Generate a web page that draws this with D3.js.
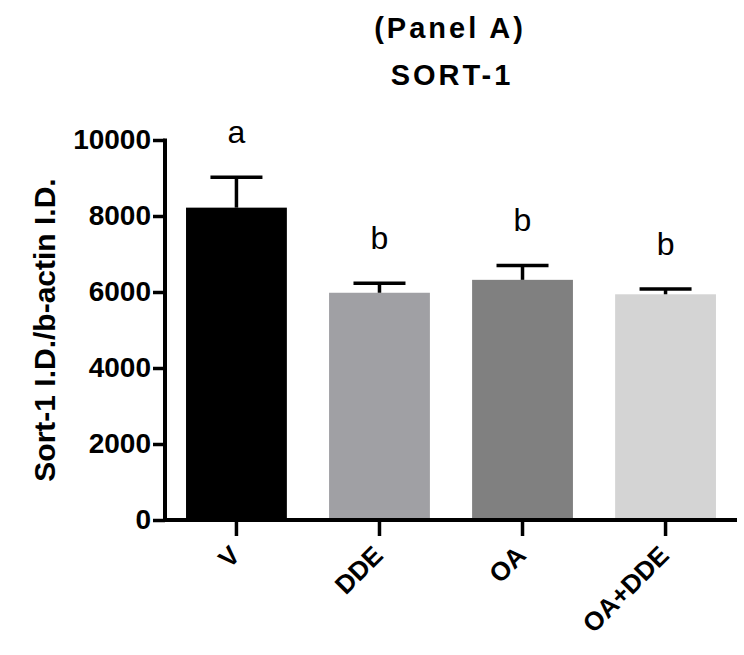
<!DOCTYPE html>
<html><head><meta charset="utf-8">
<script src="https://cdn.jsdelivr.net/npm/d3@7"></script>
<style>body{margin:0;background:#fff}</style>
</head><body>
<svg id="c" width="744" height="655"></svg>
<script>
const categories = ["V", "DDE", "OA", "OA+DDE"];
const means = [8220, 5980, 6320, 5940];
const errors = [800, 250, 380, 140];
const letters = ["a", "b", "b", "b"];
const colors = ["#000000", "#a0a0a4", "#808080", "#d4d4d4"];
const yTicks = [0, 2000, 4000, 6000, 8000, 10000];

const svg = d3.select("#c");
const font = "Arial, 'Liberation Sans', sans-serif";
const pLeft = 165, pRight = 737, pTop = 140, pBottom = 520;

const x = d3.scaleBand().domain(categories).range([pLeft, pRight]).paddingInner(0.295).paddingOuter(0.147);
const y = d3.scaleLinear().domain([0, 10000]).range([pBottom, pTop]);

// bars
svg.selectAll("rect.bar").data(categories).enter().append("rect")
  .attr("x", d => x(d)).attr("width", x.bandwidth())
  .attr("y", (d, i) => y(means[i])).attr("height", (d, i) => y(0) - y(means[i]))
  .attr("fill", (d, i) => colors[i]);

// error bars
const capW = 52;
categories.forEach((c, i) => {
  const cx = x(c) + x.bandwidth() / 2;
  const yTopErr = y(means[i] + errors[i]);
  svg.append("line").attr("x1", cx).attr("x2", cx)
    .attr("y1", y(means[i])).attr("y2", yTopErr)
    .attr("stroke", "#000").attr("stroke-width", 3.5);
  svg.append("line").attr("x1", cx - capW / 2).attr("x2", cx + capW / 2)
    .attr("y1", yTopErr).attr("y2", yTopErr)
    .attr("stroke", "#000").attr("stroke-width", 3.5);
  svg.append("text").attr("x", cx).attr("y", yTopErr - 34)
    .attr("text-anchor", "middle").attr("font-family", font).attr("font-size", 32)
    .text(letters[i]);
});

// y axis
const ya = svg.append("g").attr("transform", `translate(${pLeft},0)`)
  .call(d3.axisLeft(y).tickValues(yTicks).tickFormat(d3.format("d")).tickSize(12).tickPadding(2));
ya.select(".domain").attr("stroke-width", 4).attr("d", `M0,${pBottom + 2}V${pTop - 1.5}`);
ya.selectAll(".tick line").attr("stroke-width", 3.5);
ya.selectAll(".tick text").attr("font-family", font).attr("font-size", 28).attr("font-weight", "bold").attr("fill", "#000");

// x axis
const xa = svg.append("g").attr("transform", `translate(0,${pBottom})`)
  .call(d3.axisBottom(x).tickSize(16).tickPadding(6));
xa.select(".domain").attr("stroke-width", 4).attr("d", `M${pLeft - 2},0H${pRight}`);
xa.selectAll(".tick line").attr("stroke-width", 3.5);
xa.selectAll(".tick text").attr("font-family", font).attr("font-size", 26).attr("font-weight", "bold").attr("fill", "#000")
  .attr("text-anchor", "end").attr("dy", 0).attr("y", 0).attr("x", 0)
  .attr("transform", "translate(5,37) rotate(-45)");

// y axis title
svg.append("text").attr("transform", `translate(55,${(pTop + pBottom) / 2}) rotate(-90)`)
  .attr("text-anchor", "middle").attr("font-family", font).attr("font-size", 30).attr("font-weight", "bold")
  .text("Sort-1 I.D./b-actin I.D.");

// titles
svg.append("text").attr("x", 450).attr("y", 38).attr("text-anchor", "middle")
  .attr("font-family", font).attr("font-size", 29).attr("font-weight", "bold").attr("letter-spacing", 3)
  .text("(Panel A)");
svg.append("text").attr("x", 452).attr("y", 85).attr("text-anchor", "middle")
  .attr("font-family", font).attr("font-size", 29).attr("font-weight", "bold").attr("letter-spacing", 3)
  .text("SORT-1");
</script>
</body></html>
